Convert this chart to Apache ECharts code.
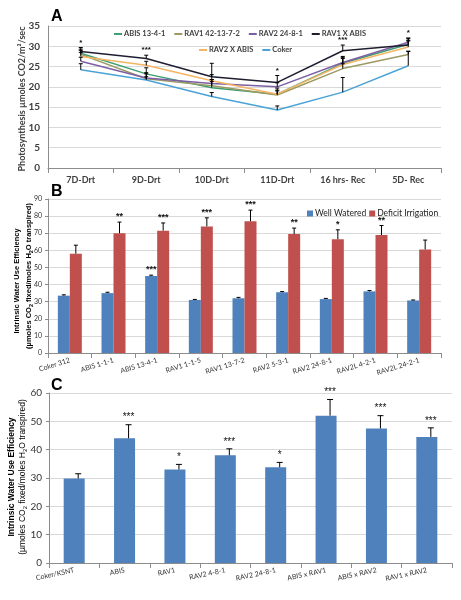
<!DOCTYPE html>
<html><head><meta charset="utf-8">
<script src="https://cdn.jsdelivr.net/npm/echarts/dist/echarts.min.js"></script>
<style>html,body{margin:0;padding:0;background:#fff}#c{width:461px;height:600px}</style>
</head><body><div id="c"></div>
<script>
// ---------- Panel A ----------
const catsA = ['7D-Drt','9D-Drt','10D-Drt','11D-Drt','16 hrs- Rec','5D- Rec'];
const namesA = ['ABIS 13-4-1','RAV1 42-13-7-2','RAV2 24-8-1','RAV1 X ABIS','RAV2 X ABIS','Coker'];
const abis1341 = [28.3,23.2,19.8,18.2,25.8,30.5];
const rav1_42 = [28.0,22.0,20.3,18.0,24.5,28.0];
const rav2_248 = [26.3,22.2,20.8,20.0,26.0,31.0];
const rav1xabis = [28.7,27.0,22.5,21.1,28.9,30.3];
const rav2xabis = [27.5,25.3,21.5,18.2,25.5,29.8];
const coker = [24.2,21.7,17.6,14.3,18.7,25.2];
const errAbis = [1.0,1.5,1.5,1.0,1.5,1.0];
const errRav1 = [1.0,1.5,1.5,1.0,1.2,0.8];
const errRav2 = [1.0,1.0,1.0,1.0,1.5,1.0];
const errR1xA = [1.0,0.8,3.3,1.7,1.4,1.7];
const errR2xA = [1.0,1.0,1.5,1.5,1.5,1.5];
const errCoker = [1.5,0.8,1.0,1.0,3.6,3.5];
const starsA = ['*','***','','*','***','*'];
const colorsA = ['#3f9f72','#9c9a62','#7d5fa6','#1e1e30','#f5b563','#4aa3d6'];

// ---------- Panel B ----------
const catsB = ['Coker 312','ABIS 1-1-1','ABIS 13-4-1','RAV1 1-1-5','RAV1 13-7-2','RAV2 5-3-1','RAV2 24-8-1','RAV2L 4-2-1','RAV2L 24-2-1'];
const wellWatered = [33.5,35,45,31,32,35.5,31.5,36,30.7];
const wwErr = [0.5,0.5,0.5,0.3,0.5,0.4,0.4,0.5,0.3];
const wwStars = ['','','***','','','','','',''];
const deficit = [58,70,71.5,74,77,69.5,66.5,69,60.5];
const diErr = [5,6.5,4.5,5,6.5,3.5,5.5,5.5,5.5];
const diStars = ['','**','***','***','***','**','*','**',''];

// ---------- Panel C ----------
const catsC = ['Coker/KSNT','ABIS','RAV1','RAV2 4-8-1','RAV2 24-8-1','ABIS x RAV1','ABIS x RAV2','RAV1 x RAV2'];
const valC = [29.8,44,33,38,33.8,52,47.5,44.5];
const errC = [1.7,4.8,1.8,2.3,1.7,5.7,4.5,3.2];
const starsC = ['','***','*','***','*','***','***','***'];

const chart = echarts.init(document.getElementById('c'));

function errSeries(xi, yi, vals, errs, stars, off, cap, starFont, starGap){
  return {
    type:'custom', xAxisIndex:xi, yAxisIndex:yi, silent:true, z:10,
    data: vals.map((v,i)=>[i, v, errs[i]]),
    renderItem: function(params, api){
      const i = api.value(0), v = api.value(1), e = api.value(2);
      const p0 = api.coord([i, v]); const p1 = api.coord([i, v+e]);
      const cx = p0[0] + off;
      const ch = [
        {type:'line', shape:{x1:cx,y1:p0[1],x2:cx,y2:p1[1]}, style:{stroke:'#000',lineWidth:1}},
        {type:'line', shape:{x1:cx-cap,y1:p1[1],x2:cx+cap,y2:p1[1]}, style:{stroke:'#000',lineWidth:1}}
      ];
      const s = stars ? stars[params.dataIndex] : '';
      if (s) ch.push({type:'text', x:cx, y:p1[1]-starGap, style:{text:s, textAlign:'center', textVerticalAlign:'bottom', font:starFont, fill:'#111'}});
      return {type:'group', children:ch};
    }
  };
}

const seriesA = [abis1341, rav1_42, rav2_248, rav1xabis, rav2xabis, coker];
const errsA = [errAbis, errRav1, errRav2, errR1xA, errR2xA, errCoker];
const topA = catsA.map((c,i)=>Math.max(...seriesA.map((s,k)=>s[i]+errsA[k][i])));

const labelFont = 'Lato, "Open Sans", sans-serif';
const sansF = '"Liberation Sans", Arial, sans-serif';

const series = [];
seriesA.forEach((d,k)=>{
  series.push({name:namesA[k], type:'line', xAxisIndex:0, yAxisIndex:0, data:d, symbol:'none',
    lineStyle:{width:1.5, color:colorsA[k]}, itemStyle:{color:colorsA[k]}, z:3});
});
seriesA.forEach((d,k)=>{ series.push(errSeries(0,0,d,errsA[k],null,0,2,'',0)); });
series.push({
  type:'custom', xAxisIndex:0, yAxisIndex:0, silent:true, z:11,
  data: topA.map((v,i)=>[i,v]),
  renderItem:function(params, api){
    const s = starsA[params.dataIndex]; if(!s) return null;
    const p = api.coord([api.value(0), api.value(1)]);
    return {type:'text', x:p[0], y:p[1]-1, style:{text:s, textAlign:'center', textVerticalAlign:'bottom', font:'bold 8px sans-serif', fill:'#111'}};
  }
});
// Panel B
series.push({name:'Well Watered', type:'bar', xAxisIndex:1, yAxisIndex:1, data:wellWatered, barWidth:12, barGap:'0%', itemStyle:{color:'#4f81bd'}});
series.push({name:'Deficit Irrigation', type:'bar', xAxisIndex:1, yAxisIndex:1, data:deficit, barWidth:12, barGap:'0%', itemStyle:{color:'#c0504d'}});
series.push(errSeries(1,1,wellWatered,wwErr,wwStars,-6,2,'bold 9px sans-serif',1));
series.push(errSeries(1,1,deficit,diErr,diStars,6,2,'bold 9px sans-serif',1));
// Panel C
series.push({type:'bar', xAxisIndex:2, yAxisIndex:2, data:valC, barWidth:21, itemStyle:{color:'#4f81bd'}});
series.push(errSeries(2,2,valC,errC,starsC,4,3,'10px sans-serif',2));

const gridLine = {show:true, lineStyle:{color:'#d9d9d9', width:1}};
const axLine = {show:true, lineStyle:{color:'#8c8c8c'}};
const legTextA = {fontSize:7.5, fontWeight:'bold', color:'#404040', fontFamily:labelFont, padding:[0,0,0,-3]};

const subRich = {s:{fontSize:5.5, fontWeight:'bold', fontFamily:sansF, padding:[4,0,0,0]}};
function titleText(x, y, size, weight){
  return [
    {type:'text', x:x, y:y, rotation:Math.PI/2, style:{text:'Intrinsic Water Use Efficiency', textAlign:'center', textVerticalAlign:'middle', font:weight+' '+size+'px '+sansF, fill:'#000'}}
  ];
}

const option = {
  animation:false,
  backgroundColor:'#fff',
  grid:[
    {left:48, right:20, top:26, height:142},
    {left:48, right:20, top:199, height:154},
    {left:49, right:9, top:393, height:170}
  ],
  legend:[
    {data:namesA.slice(0,4), top:25, left:109, icon:'rect', itemWidth:8, itemHeight:2, itemGap:9, textStyle:legTextA},
    {data:namesA.slice(4), top:41, left:194, icon:'rect', itemWidth:8, itemHeight:2, itemGap:9, textStyle:legTextA},
    {data:['Well Watered','Deficit Irrigation'], top:204, left:302, icon:'rect', itemWidth:6, itemHeight:6, itemGap:3,
     textStyle:{fontSize:8.5, color:'#222', fontFamily:labelFont, padding:[0,0,0,-3]}}
  ],
  xAxis:[
    {type:'category', gridIndex:0, data:catsA, axisLine:axLine, axisTick:{show:true, lineStyle:{color:'#8c8c8c'}},
     axisLabel:{fontSize:9, fontWeight:'bold', color:'#404040', fontFamily:labelFont, margin:8}},
    {type:'category', gridIndex:1, data:catsB, axisLine:axLine, axisTick:{show:true, lineStyle:{color:'#8c8c8c'}},
     axisLabel:{fontSize:7, color:'#333', fontFamily:labelFont, rotate:17, margin:7, interval:0}},
    {type:'category', gridIndex:2, data:catsC, axisLine:axLine, axisTick:{show:true, lineStyle:{color:'#8c8c8c'}},
     axisLabel:{fontSize:7, color:'#333', fontFamily:labelFont, rotate:12, margin:7, interval:0}}
  ],
  yAxis:[
    {type:'value', gridIndex:0, min:0, max:35, interval:5, axisLine:axLine, axisTick:{show:false}, splitLine:gridLine,
     axisLabel:{fontSize:10, fontWeight:'bold', color:'#404040', fontFamily:labelFont, margin:8}},
    {type:'value', gridIndex:1, min:0, max:90, interval:10, axisLine:axLine, axisTick:{show:true, length:3, lineStyle:{color:'#8c8c8c'}}, splitLine:gridLine,
     axisLabel:{fontSize:7, color:'#333', fontFamily:labelFont, margin:6}},
    {type:'value', gridIndex:2, min:0, max:60, interval:10, axisLine:axLine, axisTick:{show:true, length:3, lineStyle:{color:'#8c8c8c'}}, splitLine:gridLine,
     axisLabel:{fontSize:10, color:'#333', fontFamily:labelFont, margin:7}}
  ],
  graphic:[
    {type:'text', left:51, top:9, style:{text:'A', font:'bold 16px '+sansF, fill:'#000'}},
    {type:'text', left:51, top:184, style:{text:'B', font:'bold 16px '+sansF, fill:'#000'}},
    {type:'text', left:51, top:378, style:{text:'C', font:'bold 16px '+sansF, fill:'#000'}},
    {type:'text', x:22, y:99, rotation:Math.PI/2, style:{text:'Photosynthesis µmoles CO2/m²/sec', textAlign:'center', textVerticalAlign:'middle', font:'bold 9px ' + labelFont, fill:'#404040'}},
    {type:'text', x:17, y:281, rotation:Math.PI/2, style:{text:'Intrinsic Water Use Efficiency', textAlign:'center', textVerticalAlign:'middle', font:'bold 7.5px ' + sansF, fill:'#000'}},
    {type:'text', x:29, y:276, rotation:Math.PI/2, style:{text:'(µmoles CO{s|2} fixed/moles H{s|2}O transpired)', rich:subRich, textAlign:'center', textVerticalAlign:'middle', font:'bold 7.5px ' + sansF, fill:'#000'}},
    {type:'text', x:12, y:477, rotation:Math.PI/2, style:{text:'Intrinsic Water Use Efficiency', textAlign:'center', textVerticalAlign:'middle', font:'bold 8.5px ' + sansF, fill:'#000'}},
    {type:'text', x:23, y:477, rotation:Math.PI/2, style:{text:'(µmoles CO{s|2} fixed/moles H{s|2}O transpired)', rich:{s:{fontSize:6, fontFamily:sansF, padding:[4,0,0,0]}}, textAlign:'center', textVerticalAlign:'middle', font:'8.5px ' + sansF, fill:'#000'}}
  ],
  series: series
};
chart.setOption(option);
</script></body></html>
